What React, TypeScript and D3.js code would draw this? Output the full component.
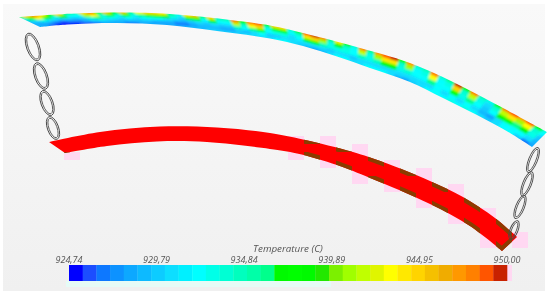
import React from "react";
import * as d3 from "d3";

const width = 550;
const height = 295;

// model coordinates, 1 unit = 2 px in the picture
const topOuter = [[9.5, 8.5], [40, 6.6], [66.5, 6.25], [91.5, 7.5], [135, 12.75], [151.5, 16.5], [176.5, 23], [205, 31.5], [226.5, 41], [251.5, 54], [273.5, 66]];
const topInner = [[20, 13.5], [33.5, 12.25], [58.5, 11.5], [83.5, 12.5], [108.5, 15.5], [135, 19.25], [151.5, 23], [168.5, 28.25], [185, 34], [205, 41], [221.5, 49], [238.5, 57.5], [255, 66.5], [266, 73.5]];
const redOuter = [[24.5, 71], [50, 66], [80, 63.25], [108.5, 63.75], [135, 66.5], [151.5, 69.75], [176.5, 76], [191.5, 81], [215, 90.5], [231.5, 98.5], [247.5, 109], [258.5, 118.5]];
const redInner = [[32.5, 76.5], [53.5, 73], [78.5, 70.75], [103.5, 71], [135, 74.5], [148.5, 76.75], [168.5, 82.5], [185, 89], [215, 102], [235, 113], [251, 125.5]];

const gasketX = [16.5, 20.5, 23.5, 26.5, 266.5, 263.5, 260, 257];
const gasketY = [23.5, 38, 51.5, 64, 80, 92, 103.5, 115];
const gasketLong = [7.3, 7, 6.6, 6, 6.7, 6.5, 6.2, 5];
const gasketShort = [3.2, 3.2, 3, 2.8, 2.2, 2.2, 2.2, 2];
const gasketTilt = [-20, -20, -20, -20, 22, 22, 22, 22];

const legendColors = [
  "#0000ff", "#1a4dff", "#0f78ff", "#0a92ff", "#0aa8ff", "#0abaff", "#0accff", "#0adeff",
  "#00f0ff", "#00ffff", "#00ffe8", "#00ffd4", "#00ffbe", "#00ffa8", "#00ff8c", "#00fa00",
  "#00ff00", "#00fa00", "#20e800", "#7cf000", "#a0ff00", "#c0ff00", "#e0f500", "#ffff00",
  "#ffe800", "#ffd400", "#f5c000", "#f0ac00", "#ff9800", "#ff8000", "#ff5500", "#c82000",
];
const tickValues = [924.74, 929.79, 934.84, 939.89, 944.95, 950.0];
const tickLabels = ["924,74", "929,79", "934,84", "939,89", "944,95", "950,00"];

// temperature read along the top band, five rows from outer edge to inner edge
const tempRow0 = [938, 945, 948, 944, 938, 945, 936, 935, 945, 948, 938, 946, 937, 946, 936, 943, 945, 945, 944, 936,
  933, 944, 946, 936, 945, 935, 935, 948, 938, 948, 949, 938, 945, 945, 934, 938,
  949, 950, 948, 936, 944, 938, 934, 948, 936, 947, 949, 950, 938, 947, 934, 935,
  948, 934, 936, 950, 938, 948, 935, 933, 938, 948, 949, 947, 949, 938, 934];
const tempRow1 = [934, 938, 943, 938, 933, 937, 932, 932, 941, 943, 934, 938, 933, 938, 933, 936, 938, 938, 937, 933,
  931, 937, 938, 932, 937, 932, 932, 942, 934, 943, 945, 933, 938, 938, 932, 934,
  944, 945, 941, 933, 937, 934, 932, 942, 933, 941, 944, 944, 934, 941, 932, 933,
  943, 932, 933, 945, 934, 942, 933, 931, 934, 942, 944, 941, 943, 934, 932];
const tempRow2 = [930, 931, 933, 931, 930, 930, 929, 930, 934, 936, 933, 932, 931, 932, 931, 932, 932, 932, 931, 930,
  929, 930, 931, 930, 931, 930, 930, 935, 932, 936, 938, 932, 933, 933, 931, 932,
  937, 938, 935, 933, 933, 933, 932, 935, 933, 935, 937, 937, 933, 934, 932, 932,
  936, 932, 932, 938, 933, 936, 932, 930, 932, 937, 938, 936, 937, 933, 930];
const tempRow3 = [928, 928, 928, 927, 926, 927, 927, 928, 930, 931, 930, 929, 929, 929, 929, 929, 928, 928, 928, 927,
  927, 928, 929, 929, 929, 928, 928, 930, 929, 931, 932, 930, 930, 931, 931, 931,
  931, 931, 931, 930, 931, 931, 930, 931, 931, 931, 931, 931, 931, 931, 931, 931,
  931, 932, 931, 932, 931, 932, 931, 929, 928, 931, 932, 932, 932, 931, 929];
const tempRow4 = [929, 928, 926, 925, 925, 925, 926, 926, 927, 928, 928, 928, 927, 927, 928, 928, 928, 928, 928, 928,
  929, 929, 929, 930, 930, 930, 930, 930, 931, 931, 931, 931, 932, 932, 931, 930,
  929, 928, 929, 931, 932, 932, 931, 931, 932, 932, 932, 931, 929, 928, 930, 931,
  932, 932, 932, 933, 932, 933, 932, 931, 930, 931, 932, 932, 930, 927, 928];
const tempRows = [tempRow0, tempRow1, tempRow2, tempRow3, tempRow4];

const x = d3.scaleLinear().domain([0, 275]).range([0, width]);
const y = d3.scaleLinear().domain([0, 147.5]).range([0, height]);
const tempColor = d3.scaleQuantize<string>().domain([924.74, 950]).range(legendColors);
const legendX = d3.scaleLinear().domain([924.74, 950]).range([69, 507]);

const toPx = (pts: number[][]) => pts.map((p) => [x(p[0]), y(p[1])] as [number, number]);

// edge lookup: position u (0..1) along a band edge
const edgeAt = (pts: number[][]) => {
  const px = toPx(pts);
  const yOf = d3.scaleLinear().domain(px.map((p) => p[0])).range(px.map((p) => p[1]));
  const xOf = d3.scaleLinear().domain([0, 1]).range([px[0][0], px[px.length - 1][0]]);
  return (u: number): [number, number] => [xOf(u), yOf(xOf(u))];
};

const curve = d3.line().curve(d3.curveCatmullRom);
const bandPath = (outer: number[][], inner: number[][]) =>
  curve(toPx(outer)) + "L" + curve(toPx(inner).reverse())!.slice(1) + "Z";

const topPath = bandPath(topOuter, topInner);
const redPath = bandPath(redOuter, redInner);
const redPolygon = [...toPx(redOuter), ...toPx(redInner).reverse()] as [number, number][];

// quads of the temperature field, spilling a little past the edges so the blur stays solid
const outerEdge = edgeAt(topOuter);
const innerEdge = edgeAt(topInner);
const stations = tempRow0.length;
const fieldCells = d3.range(stations).flatMap((i) =>
  d3.range(tempRows.length).map((r) => {
    const u0 = (i - 0.5) / (stations - 1);
    const u1 = (i + 0.5) / (stations - 1);
    const v0 = r === 0 ? -0.5 : (r - 0.5) / 4;
    const v1 = r === 4 ? 1.5 : (r + 0.5) / 4;
    const at = (u: number, v: number) => {
      const a = outerEdge(Math.max(0, Math.min(1, u)));
      const b = innerEdge(Math.max(0, Math.min(1, u)));
      const du = u < 0 ? -8 : u > 1 ? 8 : 0;
      return [a[0] + (b[0] - a[0]) * v + du, a[1] + (b[1] - a[1]) * v];
    };
    const corners = [at(u0, v0), at(u1, v0), at(u1, v1), at(u0, v1)];
    return { key: `${i}-${r}`, d: "M" + corners.join("L") + "Z", fill: tempColor(tempRows[r][i]) };
  })
);

// compression blocks along the red band, 16 wide and 8 tall
const blockW = 16;
const blockH = 8;
const blocks = d3.range(0, 34).flatMap((i) =>
  d3.range(0, 36).map((j) => ({ i, j, x: i * blockW, y: j * blockH }))
).filter((b) => {
  if (!((b.i === 4 && b.j >= 19) || b.i >= 18)) return false;
  const hits = d3.range(0, 17, 4).flatMap((dx) =>
    d3.range(0, 9, 2).map((dy) => d3.polygonContains(redPolygon, [b.x + dx, b.y + dy]))
  );
  return hits.some(Boolean) && !hits.every(Boolean);
});
const pinkBlocks = blocks.filter((b) => b.i % 2 === 0);
const brownBlocks = blocks.filter((b) => b.i % 2 === 1 || b.i === 4);

export default function App() {
  const binWidth = (legendX.range()[1] - legendX.range()[0]) / legendColors.length;
  return (
    <svg width={width} height={height} style={{ position: "absolute", left: 0, top: 0, fontFamily: "'Open Sans', sans-serif" }}>
      <defs>
        <linearGradient id="bg" x1="0" y1="0" x2="0" y2="1">
          <stop offset="0" stopColor="#f9f9f9" />
          <stop offset="1" stopColor="#f0f0f0" />
        </linearGradient>
        <filter id="soft" x="-5%" y="-5%" width="110%" height="110%">
          <feGaussianBlur stdDeviation="1.1" />
        </filter>
        <filter id="edge" x="-20%" y="-20%" width="140%" height="140%">
          <feGaussianBlur stdDeviation="0.4" />
        </filter>
        <clipPath id="topClip"><path d={topPath} /></clipPath>
        <clipPath id="redClip"><path d={redPath} /></clipPath>
        <clipPath id="brownClip">
          {brownBlocks.map((b) => (
            <rect key={`${b.i}-${b.j}`} x={b.x} y={b.y} width={blockW} height={blockH} />
          ))}
        </clipPath>
      </defs>

      <rect width={width} height={height} fill="#fff" />
      <rect x={3} y={4} width={542} height={287} fill="url(#bg)" />

      {/* top band, temperature field */}
      <g clipPath="url(#topClip)">
        <g filter="url(#soft)">
          {fieldCells.map((c) => (
            <path key={c.key} d={c.d} fill={c.fill} stroke={c.fill} strokeWidth={0.5} />
          ))}
        </g>
      </g>

      {/* bottom band */}
      {pinkBlocks.map((b) => (
        <rect key={`${b.i}-${b.j}`} x={b.x} y={b.y} width={blockW} height={blockH} fill="#ffd8f2" />
      ))}
      <path d={redPath} fill="#ff0000" filter="url(#edge)" />
      <g clipPath="url(#redClip)">
        <g clipPath="url(#brownClip)">
          <path d={redPath} fill="none" stroke="#8a3c00" strokeWidth={8} />
        </g>
      </g>

      {/* gaskets */}
      <g fill="none" stroke="#4a4a4a" filter="url(#edge)">
        {gasketX.map((gx, i) => (
          <g key={i} transform={`translate(${x(gx)},${y(gasketY[i])}) rotate(${gasketTilt[i]})`}>
            <ellipse rx={x(gasketShort[i])} ry={y(gasketLong[i])} strokeWidth={0.9} />
            <ellipse rx={x(gasketShort[i]) - 1.6} ry={y(gasketLong[i]) - 1.8} strokeWidth={0.8} />
          </g>
        ))}
      </g>

      {/* legend */}
      <rect x={legendX(924.74) - 3} y={281} width={265} height={6} fill="#e6fbf6" />
      <rect x={legendX(950)} y={265} width={5} height={16} fill="#ffd8f2" />
      <g filter="url(#edge)">
        {legendColors.map((c, i) => (
          <rect key={c + i} x={legendX(924.74) + i * binWidth} y={265} width={binWidth + 0.3} height={16} fill={c} />
        ))}
      </g>
      <text x={288} y={252} textAnchor="middle" fontSize={9.8} fontStyle="italic" fill="#555">
        Temperature (C)
      </text>
      {tickValues.map((v, i) => (
        <text key={v} x={legendX(v)} y={262.5} textAnchor="middle" fontSize={9} fontStyle="italic" fill="#555">
          {tickLabels[i]}
        </text>
      ))}
    </svg>
  );
}
